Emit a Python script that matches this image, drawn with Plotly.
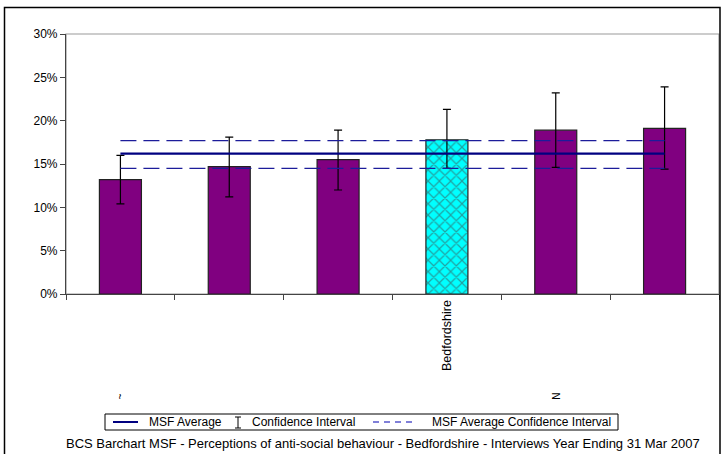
import plotly.graph_objects as go

categories = ["Area 1", "Area 2", "Area 3", "Bedfordshire", "Area 5", "Area 6"]
tick_labels = ["", "", "", "Bedfordshire", "", ""]
values = [0.132, 0.147, 0.155, 0.178, 0.189, 0.191]
ci_upper = [0.160, 0.181, 0.189, 0.213, 0.232, 0.239]
ci_lower = [0.104, 0.112, 0.120, 0.145, 0.146, 0.144]
bar_colors = ["#800080", "#800080", "#800080", "#00FFFF", "#800080", "#800080"]
bar_patterns = ["", "", "", "x", "", ""]
msf_avg = 0.162
msf_ci_upper = 0.177
msf_ci_lower = 0.145
stray_labels = {"Area 1": "~", "Area 5": "N"}
legend_names = ["MSF Average", "Confidence Interval", "MSF Average Confidence Interval"]
footer = "BCS Barchart MSF - Perceptions of anti-social behaviour - Bedfordshire - Interviews Year Ending 31 Mar 2007"

err_plus = [u - v for u, v in zip(ci_upper, values)]
err_minus = [v - l for v, l in zip(values, ci_lower)]

FONT = "Liberation Sans, Arial, sans-serif"
W, H = 722, 454
L, R, T, B = 66, 3, 34, 160
PW = W - L - R
PH = H - T - B


def px(x):
    return (x - L) / PW


def py(y):
    return (H - B - y) / PH


fig = go.Figure()
fig.add_trace(go.Bar(
    x=categories, y=values, width=0.386,
    marker=dict(color=bar_colors, line=dict(color="#222222", width=1.2),
                pattern=dict(shape=bar_patterns, fgcolor="#002020", bgcolor="#00FFFF",
                             size=8, solidity=0.28)),
    error_y=dict(type="data", array=err_plus, arrayminus=err_minus,
                 color="black", thickness=1.2, width=4),
    showlegend=False, hoverinfo="skip"))
ends = [categories[0], categories[-1]]
fig.add_trace(go.Scatter(x=ends, y=[msf_ci_upper] * 2, mode="lines",
                         line=dict(color="#1c1c9a", width=1.2, dash="16px,7px"),
                         showlegend=False, hoverinfo="skip"))
fig.add_trace(go.Scatter(x=ends, y=[msf_ci_lower] * 2, mode="lines",
                         line=dict(color="#1c1c9a", width=1.2, dash="16px,7px"),
                         showlegend=False, hoverinfo="skip"))
fig.add_trace(go.Scatter(x=ends, y=[msf_avg] * 2, mode="lines",
                         line=dict(color="#000080", width=2.4),
                         showlegend=False, hoverinfo="skip"))

annotations = []
for cat, txt in stray_labels.items():
    annotations.append(dict(x=cat, xref="x", y=py(396), yref="paper", yanchor="middle",
                            text=txt, showarrow=False, textangle=-90,
                            font=dict(family=FONT, size=10, color="black")))
annotations.append(dict(x=px(383), xref="paper", y=py(443), yref="paper",
                        xanchor="center", yanchor="middle",
                        showarrow=False, text=footer,
                        font=dict(family=FONT, size=13, color="black")))

# custom legend (box, symbols, labels)
leg_y = 422
leg_text_x = [147, 250, 430]
for name, lx in zip(legend_names, leg_text_x):
    annotations.append(dict(x=px(lx), xref="paper", y=py(leg_y), yref="paper",
                            xanchor="left", yanchor="middle", showarrow=False,
                            text=name, font=dict(family=FONT, size=12, color="black")))

shapes = [
    dict(type="rect", xref="paper", yref="paper", x0=0, x1=1, y0=0, y1=1,
         line=dict(color="#9a9a9a", width=1.2), layer="below"),
    dict(type="rect", xref="paper", yref="paper",
         x0=px(4.5), x1=px(720), y0=py(470), y1=py(7.5),
         line=dict(color="black", width=1.5)),
    dict(type="rect", xref="paper", yref="paper",
         x0=px(105), x1=px(618), y0=py(430), y1=py(414),
         line=dict(color="black", width=1), fillcolor="white", layer="below"),
    dict(type="line", xref="paper", yref="paper", x0=px(113), x1=px(138),
         y0=py(leg_y), y1=py(leg_y), line=dict(color="#000080", width=2)),
    dict(type="line", xref="paper", yref="paper", x0=px(238), x1=px(238),
         y0=py(417), y1=py(428), line=dict(color="black", width=1)),
    dict(type="line", xref="paper", yref="paper", x0=px(235), x1=px(241),
         y0=py(417), y1=py(417), line=dict(color="black", width=1)),
    dict(type="line", xref="paper", yref="paper", x0=px(235), x1=px(241),
         y0=py(428), y1=py(428), line=dict(color="black", width=1)),
    dict(type="line", xref="paper", yref="paper", x0=px(373), x1=px(416),
         y0=py(leg_y), y1=py(leg_y),
         line=dict(color="#5555cc", width=1.5, dash="6px,5px")),
]

fig.update_layout(
    width=W, height=H,
    margin=dict(l=L, r=R, t=T, b=B, autoexpand=False),
    paper_bgcolor="white", plot_bgcolor="white",
    font=dict(family=FONT, size=11, color="black"),
    showlegend=False,
    xaxis=dict(type="category", categoryorder="array", categoryarray=categories,
               range=[-0.5, 5.5], tickmode="array",
               tickvals=categories, ticktext=tick_labels, tickson="boundaries",
               ticks="outside", ticklen=5, tickcolor="#444", showline=True,
               linecolor="#444", linewidth=1.2, tickangle=-90, showgrid=False,
               tickfont=dict(family=FONT, size=12.5)),
    yaxis=dict(range=[0, 0.30], dtick=0.05, tickformat=".0%", ticks="outside",
               ticklen=5, tickcolor="#444", showline=True, linecolor="#444",
               linewidth=1.2, showgrid=False, zeroline=False,
               tickfont=dict(family=FONT, size=12)),
    annotations=annotations, shapes=shapes,
)

fig.write_html("out.html", config={"displayModeBar": False},
               post_script="document.body.style.margin='0';")
